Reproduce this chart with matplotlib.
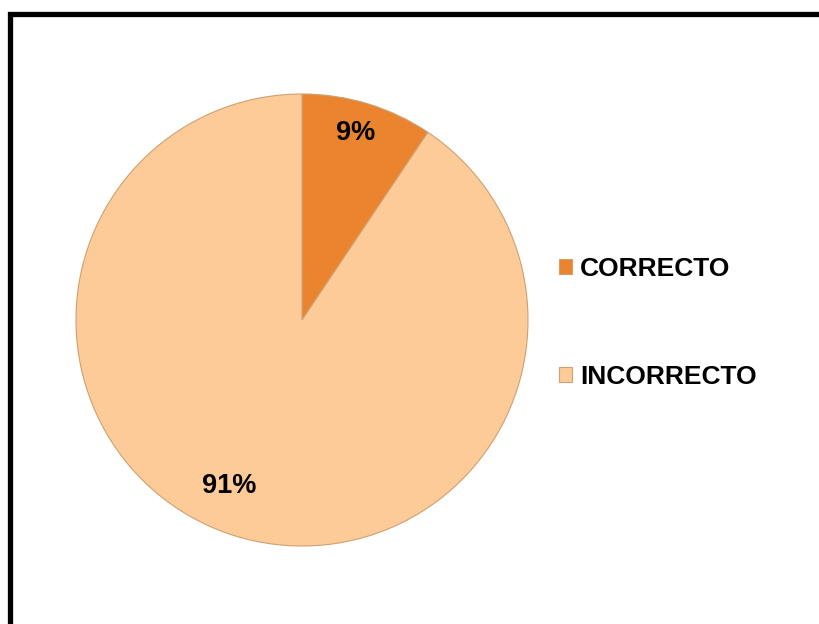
import matplotlib
matplotlib.use('Agg')
import matplotlib.pyplot as plt
from matplotlib.patches import Rectangle

categories = ['CORRECTO', 'INCORRECTO']
values = [9.4, 90.6]
labels = ['9%', '91%']
colors = ['#EB842E', '#FDCB98']

plt.rcParams['font.family'] = ['Liberation Sans', 'DejaVu Sans']

fig = plt.figure(figsize=(8.2, 6.24), dpi=100)
fig.patch.set_facecolor('white')

# pie box: x 76..528, y 94..546 px (from top)
ax = fig.add_axes([76 / 820, 78 / 624, 452 / 820, 452 / 624])
wedges, _ = ax.pie(values, colors=colors, startangle=90, counterclock=False,
                   radius=1, wedgeprops=dict(edgecolor='#CFA070', linewidth=0.8))
ax.set_xlim(-1, 1)
ax.set_ylim(-1, 1)
ax.set_aspect('equal')
ax.axis('off')

# label spots (fraction of radius)
label_pos = [(0.239, 0.827), (-0.323, -0.735)]
for (x, y), t in zip(label_pos, labels):
    ax.text(x, y, t, ha='center', va='center', fontsize=19.5, fontweight='bold', color='black')

fig.legend(wedges, categories, loc='center left', bbox_to_anchor=(559 / 820, 1 - 323 / 624),
           frameon=False, prop=dict(size=19, weight='bold'), borderpad=0, borderaxespad=0,
           handlelength=0.5, handleheight=0.5, handletextpad=0.3, labelspacing=3.2)

# outer frame, partly off the canvas
top = 1 - 13.5 / 624
frame = Rectangle((10.5 / 820, -0.2), 1.3, top + 0.2, transform=fig.transFigure,
                  fill=False, edgecolor='black', linewidth=3.8, clip_on=False)
fig.patches.append(frame)

fig.savefig('out.png', dpi=100)
